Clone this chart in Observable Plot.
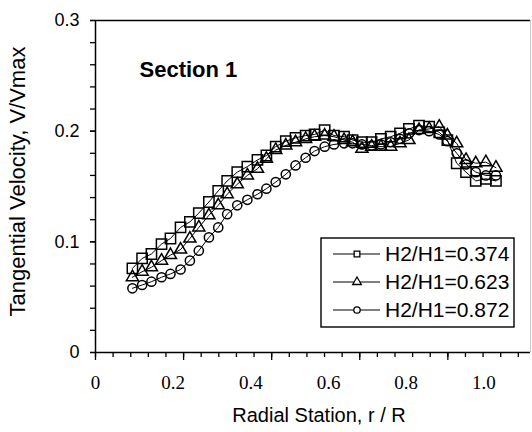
<!DOCTYPE html>
<html>
<head>
<meta charset="utf-8">
<script src="https://cdn.jsdelivr.net/npm/d3@7"></script>
<script src="https://cdn.jsdelivr.net/npm/@observablehq/plot@0.6"></script>
<style>
  html, body { margin: 0; padding: 0; background: white; }
  #chart svg { display: block; }
</style>
</head>
<body>
<div id="chart"></div>
<script>
// ---- data ----
const seriesNames = ["H2/H1=0.374", "H2/H1=0.623", "H2/H1=0.872"];
const rR = [0.095,0.120,0.144,0.170,0.193,0.219,0.243,0.266,0.292,0.316,
            0.339,0.365,0.391,0.417,0.440,0.464,0.490,0.515,0.541,0.564,
            0.590,0.614,0.640,0.662,0.686,0.711,0.735,0.760,0.784,0.807,
            0.833,0.859,0.885,0.906,0.930,0.954,0.979,1.005,1.031];
const v374 = [0.076,0.085,0.089,0.098,0.103,0.113,0.118,0.126,0.136,0.146,
              0.155,0.163,0.168,0.174,0.178,0.186,0.191,0.194,0.196,0.197,
              0.201,0.196,0.195,0.192,0.190,0.190,0.193,0.195,0.198,0.202,
              0.205,0.204,0.199,0.192,0.171,0.163,0.155,0.157,0.155];
const v623 = [0.068,0.073,0.077,0.083,0.088,0.093,0.103,0.113,0.124,0.133,
              0.143,0.152,0.160,0.166,0.175,0.183,0.187,0.190,0.193,0.195,
              0.196,0.195,0.192,0.190,0.184,0.186,0.186,0.186,0.189,0.192,
              0.201,0.202,0.204,0.196,0.189,0.174,0.171,0.172,0.167];
const v872 = [0.058,0.061,0.064,0.068,0.071,0.075,0.083,0.092,0.104,0.113,
              0.125,0.133,0.138,0.143,0.148,0.154,0.161,0.169,0.176,0.182,
              0.186,0.188,0.189,0.189,0.188,0.187,0.188,0.190,0.193,0.198,
              0.201,0.200,0.197,0.191,0.180,0.170,0.163,0.160,0.160];
const xTickLabels = [0, 0.2, 0.4, 0.6, 0.8, 1.0];
const yTickLabels = [0, 0.1, 0.2, 0.3];

// ---- build table ----
const values = [v374, v623, v872];
const data = [];
seriesNames.forEach((s, i) => rR.forEach((x, j) => data.push({series: s, x, v: values[i][j]})));
const symbols = ["square", "triangle", "circle"];
const radii = [5.8, 4.5, 4.6];

const SANS = "'Liberation Sans', Arial, sans-serif";
const SERIF = "'Liberation Serif', 'Times New Roman', serif";

const xMax = 1.12;
const xMajorStep = 0.2268;
const xMinor = d3.range(0, xMax + 1e-9, xMajorStep / 5);
const xMajor = d3.range(0, xMax + 1e-9, xMajorStep);
const yMinor = d3.range(0, 0.3001, 0.02);

const chart = Plot.plot({
  width: 532,
  height: 432,
  marginLeft: 95,
  marginRight: 2,
  marginTop: 20,
  marginBottom: 80,
  style: {fontFamily: SANS, fontSize: "18px", background: "white", color: "black", overflow: "visible"},
  x: {domain: [0, xMax], axis: null, label: null},
  y: {domain: [0, 0.3], axis: null, label: null},
  marks: [
    // frame
    Plot.ruleX([xMax], {stroke: "#c8c8c8", strokeWidth: 1}),
    Plot.ruleY([0.3], {stroke: "black", strokeWidth: 1.5}),
    Plot.ruleY([0], {stroke: "black", strokeWidth: 1.5}),
    Plot.ruleX([0], {stroke: "black", strokeWidth: 1.5}),
    // y axis ticks + labels
    Plot.axisY(yMinor, {tickSize: 5, tickFormat: () => "", strokeWidth: 1.3, label: null}),
    Plot.axisY(yTickLabels, {tickSize: 5, tickPadding: 11, strokeWidth: 1.3, fontSize: 18, fontFamily: SANS,
      tickFormat: d => d === 0 ? "0" : d.toFixed(1), label: null}),
    // x axis ticks + labels
    Plot.axisX(xMinor, {tickSize: 5, tickFormat: () => "", strokeWidth: 1.3, label: null}),
    Plot.axisX(xMajor, {tickSize: 8, tickFormat: () => "", strokeWidth: 1.3, label: null}),
    Plot.axisX(xTickLabels, {tickSize: 0, tickPadding: 23, fontSize: 19, fontFamily: SERIF,
      tickFormat: d => d === 0 ? "0" : d.toFixed(1), label: null}),
    // data
    Plot.line(data, {x: "x", y: "v", z: "series", stroke: "black", strokeWidth: 1}),
    ...seriesNames.map((s, i) => Plot.dot(data.filter(d => d.series === s),
      {x: "x", y: "v", symbol: () => symbols[i], r: radii[i], stroke: "black", fill: "none", strokeWidth: 1.5})),
    // texts
    Plot.text(["Section 1"], {frameAnchor: "top-left", dx: 44, dy: 49, textAnchor: "start", lineAnchor: "middle",
      fontWeight: "bold", fontSize: 22, fontFamily: SANS}),
    Plot.text(["Radial Station, r / R"], {frameAnchor: "bottom", dx: 6, dy: 63, lineAnchor: "middle",
      fontSize: 20, fontFamily: SANS}),
    Plot.text(["Tangential Velocity, V/Vmax"], {frameAnchor: "left", dx: -78, dy: -5, rotate: -90,
      textAnchor: "middle", lineAnchor: "middle", fontSize: 22, fontFamily: SANS})
  ]
});

document.getElementById("chart").appendChild(chart);

// ---- legend (inside plot area) ----
const lg = d3.select(chart).append("g").attr("font-family", SANS).attr("font-size", 21)
  .attr("text-anchor", "start");
lg.append("rect").attr("x", 321).attr("y", 238).attr("width", 193).attr("height", 89)
  .attr("fill", "white").attr("stroke", "black").attr("stroke-width", 1.4);
const d3sym = {square: d3.symbolSquare, triangle: d3.symbolTriangle, circle: d3.symbolCircle};
seriesNames.forEach((s, i) => {
  const y = 254 + i * 28;
  lg.append("line").attr("x1", 333).attr("x2", 380).attr("y1", y).attr("y2", y)
    .attr("stroke", "black").attr("stroke-width", 1);
  lg.append("path").attr("d", d3.symbol(d3sym[symbols[i]], Math.PI * 3.2 * 3.2)())
    .attr("transform", `translate(357,${y})`).attr("fill", "white").attr("stroke", "black").attr("stroke-width", 1.3);
  lg.append("text").attr("x", 385).attr("y", y).attr("dy", "0.35em").attr("text-anchor", "start").text(s);
});
</script>
</body>
</html>
